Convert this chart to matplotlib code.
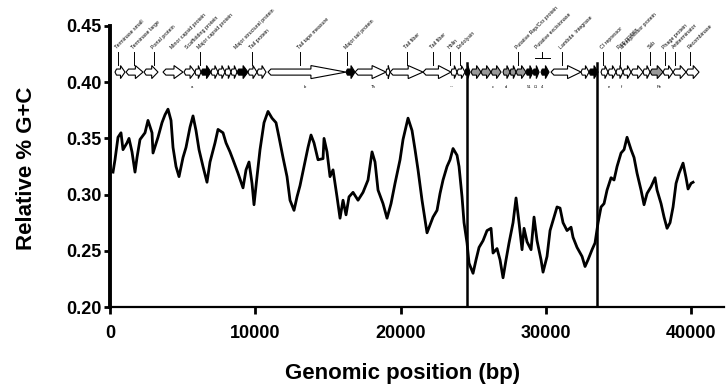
import matplotlib
matplotlib.use("Agg")
import matplotlib.pyplot as plt
from matplotlib.ticker import FormatStrFormatter

plt.rcParams['font.family'] = ['Liberation Sans', 'DejaVu Sans']

# sliding-window G+C
gc_pos = [207, 344, 551, 757, 895, 1170, 1308, 1515, 1721, 1859, 2066, 2410, 2616, 2892,
          2961, 3305, 3580, 3787, 3993, 4200, 4338, 4544, 4751, 5026, 5233, 5508, 5715,
          5921, 6128, 6403, 6678, 6885, 7229, 7436, 7780, 7987, 8262, 8469, 8813, 9157,
          9364, 9570, 9777, 9914, 10121, 10328, 10603, 10878, 11154, 11429, 11636, 11911,
          12186, 12393, 12668, 12875, 13082, 13357, 13632, 13839, 14045, 14321, 14665,
          14734, 14940, 15147, 15354, 15629, 15836, 16042, 16249, 16455, 16731, 17075,
          17419, 17763, 18039, 18245, 18452, 18796, 19071, 19347, 19622, 19967, 20173,
          20517, 20793, 21000, 21206, 21481, 21825, 22032, 22239, 22514, 22720, 22927,
          23202, 23409, 23616, 23891, 24029, 24235, 24373, 24579, 24717, 24993, 25199,
          25406, 25681, 25956, 26232, 26369, 26644, 26851, 27058, 27265, 27471, 27747,
          27953, 28160, 28366, 28504, 28710, 28986, 29192, 29399, 29674, 29812, 30087,
          30294, 30569, 30776, 30982, 31189, 31464, 31740, 31877, 32153, 32497, 32704,
          32910, 33186, 33392, 33599, 33805, 34012, 34218, 34494, 34700, 34907, 35182,
          35389, 35595, 35871, 36077, 36284, 36559, 36766, 36972, 37248, 37523, 37661,
          37936, 38143, 38350, 38556, 38763, 38969, 39176, 39451, 39658, 39796, 40002, 40140]
gc_val = [0.320, 0.331, 0.351, 0.355, 0.340, 0.346, 0.350, 0.338, 0.320, 0.333, 0.349,
          0.355, 0.366, 0.355, 0.337, 0.351, 0.364, 0.371, 0.376, 0.366, 0.342, 0.325,
          0.316, 0.333, 0.342, 0.360, 0.370, 0.357, 0.340, 0.325, 0.311, 0.329, 0.346,
          0.358, 0.355, 0.346, 0.338, 0.331, 0.319, 0.306, 0.322, 0.329, 0.310, 0.291,
          0.316, 0.340, 0.364, 0.374, 0.368, 0.364, 0.351, 0.333, 0.316, 0.295, 0.286,
          0.298, 0.308, 0.325, 0.342, 0.353, 0.346, 0.331, 0.332, 0.350, 0.338, 0.316,
          0.322, 0.298, 0.279, 0.295, 0.282, 0.298, 0.302, 0.295, 0.302, 0.313, 0.338,
          0.329, 0.304, 0.292, 0.279, 0.292, 0.310, 0.331, 0.349, 0.368, 0.357, 0.340,
          0.322, 0.295, 0.266, 0.273, 0.280, 0.286, 0.301, 0.313, 0.325, 0.331, 0.341,
          0.335, 0.325, 0.298, 0.275, 0.257, 0.239, 0.230, 0.242, 0.253, 0.259, 0.268,
          0.270, 0.248, 0.252, 0.242, 0.226, 0.242, 0.257, 0.275, 0.297, 0.275, 0.251,
          0.270, 0.258, 0.251, 0.280, 0.259, 0.242, 0.231, 0.245, 0.268, 0.280, 0.289,
          0.288, 0.275, 0.268, 0.271, 0.262, 0.253, 0.245, 0.236, 0.242, 0.251, 0.257,
          0.275, 0.289, 0.292, 0.304, 0.315, 0.313, 0.325, 0.337, 0.340, 0.351, 0.340,
          0.333, 0.319, 0.304, 0.291, 0.301, 0.307, 0.315, 0.304, 0.292, 0.280, 0.270,
          0.275, 0.289, 0.310, 0.319, 0.328, 0.315, 0.305, 0.310, 0.311]

# boundaries of the low G+C region
island_edges = [24600, 33560]

# gene map (bp), fill: w = white, k = black, g = grey
gene_start = [344, 1102, 2341, 3649, 5095, 5852, 6265, 6954, 7436, 7918, 8331, 8744, 9501,
              10121, 10878, 16249, 16868, 19002, 19278, 21550, 23478, 23891, 24442, 24855,
              25543, 26232, 27058, 27540, 27953, 28642, 29123, 29674, 30363, 32428, 32979,
              33805, 34287, 34838, 35320, 35871, 36697, 37179, 38074, 38763, 39658]
gene_end = [1033, 2272, 3305, 5026, 5852, 6265, 6954, 7436, 7918, 8331, 8744, 9501, 10121,
            10741, 16249, 16868, 19002, 19278, 21550, 23478, 23891, 24442, 24786, 25543,
            26232, 26920, 27540, 27953, 28642, 29123, 29536, 30225, 32428, 32979, 33599,
            34287, 34838, 35320, 35871, 36697, 37179, 38074, 38763, 39658, 40553]
gene_fill = ['w', 'w', 'w', 'w', 'w', 'w', 'k', 'w', 'w', 'w', 'w', 'k', 'w',
             'w', 'w', 'k', 'w', 'w', 'w', 'w', 'w', 'w', 'k', 'g',
             'g', 'g', 'g', 'g', 'g', 'k', 'k', 'k', 'w', 'w', 'k',
             'w', 'w', 'w', 'w', 'w', 'w', 'g', 'w', 'w', 'w']

label_pos = [551, 1652, 3029, 4338, 5370, 6197, 8744, 9777, 13082, 16318, 20448, 22239,
             23409, 24098, 28091, 29468, 31120, 33943, 35114, 35320, 37179, 38212, 38900,
             39933]
label_text = ['Terminase small', 'Terminase large', 'Portal protein', 'Minor capsid protein',
              'Scaffolding protein', 'Major capsid protein', 'Major structural protein',
              'Tail protein', 'Tail tape measure', 'Major tail protein', 'Tail fiber',
              'Tail fiber', 'Holin', 'Endolysin', 'Putative Rep/Cro protein',
              'Putative excisionase', 'Lambda  Integrase', 'CI repressor', 'Rep protein',
              'antirepressor protein', 'Ssb', 'Phage protein', 'Antiterminator', 'Recombinase']
label_leader = [True, True, True, False, False, True, False, True, True, True, True, True,
                True, True, True, False, True, True, True, False, True, True, True, True]

small_pos = [5646, 13426, 18108, 23547, 26369, 27265, 28848, 29261, 29743, 34356, 35182, 37798]
small_text = ['a', 'b', 'Th', '---', 'c', 'd', '51', 'Ω', '4', 'e', 'f', 'Pe']

fig = plt.figure(figsize=(7.26, 3.92), dpi=100)
ax = fig.add_axes([110 / 726, 85 / 392, 614 / 726, 281 / 392])

ax.plot(gc_pos, gc_val, color='black', lw=2.0)
for x in island_edges:
    ax.plot([x, x], [0.20, 0.417], color='black', lw=1.8)

# genes
yc = 0.409
fills = {'w': 'white', 'k': 'black', 'g': '0.6'}
for x0, x1, f in zip(gene_start, gene_end, gene_fill):
    L = x1 - x0
    head = 0.45 * L
    tail = min(0.15 * L, 200)
    hb, hh = 0.0027, 0.0058
    xs = [x0, x0 + tail, x1 - head, x1 - head, x1, x1 - head, x1 - head, x0 + tail]
    ys = [yc, yc + hb, yc + hb, yc + hh, yc, yc - hh, yc - hb, yc - hb]
    ax.fill(xs, ys, facecolor=fills[f], edgecolor='black', lw=0.8, clip_on=False, zorder=3)

for x, t, lead in zip(label_pos, label_text, label_leader):
    if lead:
        ax.plot([x, x], [0.4155, 0.427], color='black', lw=0.7, clip_on=False)
    ax.text(x, 0.429, t, rotation=45, rotation_mode='anchor', ha='left', va='bottom',
            fontsize=3.8, clip_on=False)

# bracket over the small genes
ax.plot([29261, 30294], [0.4215, 0.4215], color='black', lw=0.7, clip_on=False)
ax.plot([29743, 29743], [0.4215, 0.427], color='black', lw=0.7, clip_on=False)

for x, t in zip(small_pos, small_text):
    ax.text(x, 0.396, t, fontsize=3, ha='center', va='center')

ax.set_xlim(0, 42270)
ax.set_ylim(0.20, 0.45)
ax.set_xticks([0, 10000, 20000, 30000, 40000])
ax.set_yticks([0.20, 0.25, 0.30, 0.35, 0.40, 0.45])
ax.yaxis.set_major_formatter(FormatStrFormatter('%.2f'))
ax.spines['top'].set_visible(False)
ax.spines['right'].set_visible(False)
ax.spines['left'].set_linewidth(2.8)
ax.spines['bottom'].set_linewidth(1.6)
ax.tick_params(axis='y', direction='out', width=2, length=4, pad=2, labelsize=13)
ax.tick_params(axis='x', direction='out', width=2, length=5, pad=8, labelsize=13)
for lbl in ax.get_xticklabels() + ax.get_yticklabels():
    lbl.set_fontweight('bold')

fig.text(27 / 726, 1 - 168 / 392, 'Relative % G+C', rotation=90, ha='center', va='center',
         fontsize=16, fontweight='bold')
fig.text(403 / 726, 1 - 373 / 392, 'Genomic position (bp)', ha='center', va='center',
         fontsize=16, fontweight='bold')

fig.savefig('out.png', dpi=100)
